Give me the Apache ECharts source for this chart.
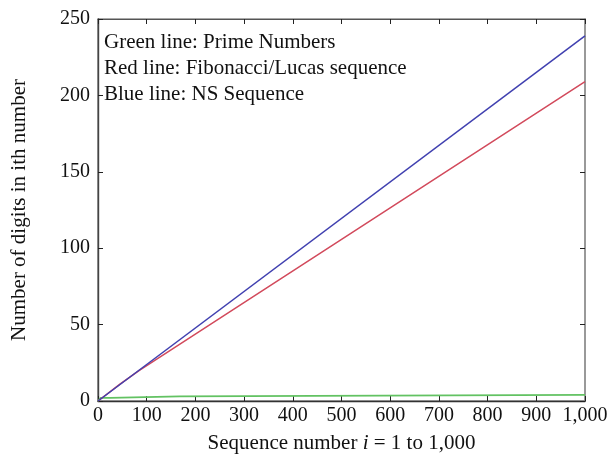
<!DOCTYPE html>
<html>
<head>
<meta charset="utf-8">
<script src="https://cdn.jsdelivr.net/npm/echarts@6/dist/echarts.min.js"></script>
<style>
  html, body { margin: 0; padding: 0; background: #fff; }
  #main { width: 611px; height: 458px; }
</style>
</head>
<body>
<div id="main"></div>
<script>
// values
var xTicks = [0, 100, 200, 300, 400, 500, 600, 700, 800, 900, 1000];
var xTickLabels = ['0', '100', '200', '300', '400', '500', '600', '700', '800', '900', '1,000'];
var yTicks = [0, 50, 100, 150, 200, 250];

var primeDigits = [[0, 0], [1, 1], [4, 1], [5, 2], [25, 2], [26, 3], [168, 3], [169, 4], [1000, 4]];
var fibLucasDigits = [[0, 0], [45, 11], [85, 20], [1000, 209]];
var nsDigits = [[0, 0], [1000, 239]];

var legendLines = ['Green line: Prime Numbers', 'Red line: Fibonacci/Lucas sequence', 'Blue line: NS Sequence'];

var font = 'Liberation Serif, Times New Roman, serif';
var myChart = echarts.init(document.getElementById('main'));

// ticks pointing into the plot
function ticks() {
    return { show: true, inside: true, length: 5, lineStyle: { color: '#222', width: 1 } };
}

option = {
    animation: false,
    backgroundColor: '#fff',
    grid: {
        left: 98, right: 26, top: 19, bottom: 57,
        outerBoundsMode: 'none', containLabel: false,
        show: true, borderColor: '#555', borderWidth: 1.2
    },
    xAxis: [{
        type: 'value', min: 0, max: 1000, interval: 100, gridIndex: 0, position: 'bottom',
        axisLine: { show: true, onZero: false, lineStyle: { color: '#333', width: 1.4 } },
        axisTick: ticks(),
        splitLine: { show: false },
        axisLabel: {
            fontFamily: font, fontSize: 20, color: '#111', margin: 5,
            showMaxLabel: true, showMinLabel: true, hideOverlap: false,
            formatter: function (v) { return xTickLabels[xTicks.indexOf(v)]; }
        },
        name: '{a|Sequence number }{i|i}{a| = 1 to 1,000}',
        nameLocation: 'middle', nameGap: 32,
        nameTextStyle: {
            rich: {
                a: { fontFamily: font, fontSize: 21, color: '#111' },
                i: { fontFamily: font, fontSize: 21, color: '#111', fontStyle: 'italic' }
            }
        }
    }, {
        type: 'value', min: 0, max: 1000, interval: 100, gridIndex: 0, position: 'top',
        axisLine: { show: true, onZero: false, lineStyle: { color: '#555', width: 1.2 } },
        axisTick: ticks(), axisLabel: { show: false }, splitLine: { show: false }
    }],
    yAxis: [{
        type: 'value', min: 0, max: 250, interval: 50, gridIndex: 0, position: 'left',
        axisLine: { show: true, onZero: false, lineStyle: { color: '#444', width: 1.4 } },
        axisTick: ticks(),
        splitLine: { show: false },
        axisLabel: { fontFamily: font, fontSize: 20, color: '#111', margin: 8 },
        name: 'Number of digits in ith number',
        nameLocation: 'middle', nameGap: 68,
        nameTextStyle: { fontFamily: font, fontSize: 21, color: '#111' }
    }, {
        type: 'value', min: 0, max: 250, interval: 50, gridIndex: 0, position: 'right',
        axisLine: { show: true, onZero: false, lineStyle: { color: '#999', width: 2 } },
        axisTick: ticks(), axisLabel: { show: false }, splitLine: { show: false }
    }],
    graphic: legendLines.map(function (t, i) {
        return {
            type: 'text', left: 104, top: 32 + i * 26,
            style: { text: t, font: '21px ' + font, fill: '#111' }
        };
    }),
    series: [{
        name: 'Prime Numbers', type: 'line', data: primeDigits, showSymbol: false,
        lineStyle: { color: '#62c262', width: 1.8 }
    }, {
        name: 'Fibonacci/Lucas', type: 'line', data: fibLucasDigits, showSymbol: false,
        lineStyle: { color: '#d24a5c', width: 1.5 }
    }, {
        name: 'NS Sequence', type: 'line', data: nsDigits, showSymbol: false,
        lineStyle: { color: '#4040b0', width: 1.5 }
    }]
};
myChart.setOption(option);
</script>
</body>
</html>
